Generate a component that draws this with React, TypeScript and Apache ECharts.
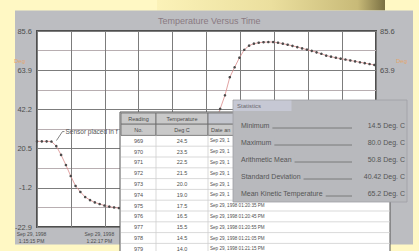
import React, { useEffect, useRef } from 'react';
import * as echarts from 'echarts';

// ---- data ----
const timeSec = [
  0, 30, 60, 90, 120, 150, 180, 210, 240, 270, 300, 330, 360, 390, 420, 450, 480, 510, 540, 570,
  600, 630, 660, 690, 720, 750, 780, 810, 840, 870, 900, 930, 960, 990, 1020, 1050, 1080, 1110, 1140, 1170,
  1200, 1230, 1260, 1290, 1320, 1350, 1380, 1410, 1440, 1470, 1500, 1530, 1560, 1590, 1620, 1650, 1680, 1710, 1740, 1770,
  1800, 1830, 1860, 1890, 1920, 1950, 1980, 2010, 2040, 2070, 2100,
];
const tempC = [
  24.5, 24.5, 24.5, 24.4, 21.9, 17.0, 11.4, 5.3, -0.2, -3.5, -6.3, -8.0, -9.3, -10.2, -11.0, -11.6, -12.1, -12.4, -12.7, -13.0,
  -13.2, -13.4, -13.5, -13.6, -13.7, -13.8, -13.8, -13.9, -13.9, -14.0, -14.0, -14.0, -12.0, -4.0, 6.0, 16.0, 26.0, 35.0, 42.5, 50.0,
  60.0, 65.5, 70.8, 75.2, 77.5, 78.6, 79.1, 79.4, 79.5, 79.5, 79.1, 78.6, 78.0, 77.4, 76.7, 76.0, 75.3, 74.6, 73.8, 73.0,
  72.0, 71.4, 70.8, 70.3, 69.8, 69.3, 68.8, 68.3, 67.8, 67.3, 66.8,
];
const yMin = -22.9;
const yMax = 85.6;
const yStep = 21.7;
const yTickLabelsLeft = ['-22.9', '-1.2', '20.5', '42.2', '63.9', '85.6'];
const yTickLabelsRight = ['', '', '', '', '63.9', '85.6'];
const xMax = 2110;
const xStep = 211;
const xTickLabels = ['Sep 29, 1998\n1:15:15 PM', '', 'Sep 29, 1998\n1:22:17 PM'];
const readingNos = ['969', '970', '971', '972', '973', '974', '975', '976', '977', '978', '979'];
const readingTemps = ['24.5', '23.5', '22.5', '21.5', '20.0', '19.0', '17.5', '16.5', '15.5', '14.5', '14.0'];
const readingTimes = [
  'Sep 29, 1998 01:19:35 PM', 'Sep 29, 1998 01:19:45 PM', 'Sep 29, 1998 01:19:55 PM', 'Sep 29, 1998 01:20:05 PM',
  'Sep 29, 1998 01:20:15 PM', 'Sep 29, 1998 01:20:25 PM', 'Sep 29, 1998 01:20:35 PM', 'Sep 29, 1998 01:20:45 PM',
  'Sep 29, 1998 01:20:55 PM', 'Sep 29, 1998 01:21:05 PM', 'Sep 29, 1998 01:21:15 PM',
];
const tableHead1 = ['Reading', 'Temperature', ''];
const tableHead2 = ['No.', 'Deg C', 'Date and Time'];
const statsTitle = 'Statistics';
const statNames = ['Minimum', 'Maximum', 'Arithmetic Mean', 'Standard Deviation', 'Mean Kinetic Temperature'];
const statValues = ['14.5 Deg. C', '80.0 Deg. C', '50.8 Deg. C', '40.42 Deg. C', '65.2 Deg. C'];
const chartTitle = 'Temperature Versus Time';
const unitLabel = 'Deg';
const noteText = 'Sensor placed in freezer';
const noteIndex = 3;

const FONT = '"Liberation Sans", Arial, sans-serif';
const PANEL = '#bcbdc1';

function txt(x: number, y: number, text: string, size: number, color: string, z: number, align = 'left', extra: any = {}) {
  return {
    type: 'text', x, y, z, silent: true,
    style: { text, fontSize: size, fill: color, align, verticalAlign: 'middle', fontFamily: FONT, ...extra },
  };
}
function rect(x: number, y: number, w: number, h: number, fill: any, z: number, stroke?: string, lw = 1) {
  return {
    type: 'rect', z, silent: true,
    shape: { x, y, width: w, height: h },
    style: { fill, stroke: stroke || null, lineWidth: stroke ? lw : 0 },
  };
}
function line(x1: number, y1: number, x2: number, y2: number, color: string, z: number, lw = 1) {
  return { type: 'line', z, silent: true, shape: { x1, y1, x2, y2 }, style: { stroke: color, lineWidth: lw } };
}

export default function App() {
  const ref = useRef<HTMLDivElement>(null);
  useEffect(() => {
    if (!ref.current) return;
    const chart = echarts.init(ref.current, null, { renderer: 'svg' });
    const yAxisBase = {
      type: 'value', min: yMin, max: yMax, interval: yStep,
      axisLine: { show: false }, axisTick: { show: false },
    };
    const yLabel = { fontSize: 7.5, color: '#4d4d4d', fontFamily: FONT };
    chart.setOption({
      animation: false,
      backgroundColor: '#fff8c4',
      title: {
        text: chartTitle, left: 153, top: 11,
        textStyle: { fontSize: 9, color: '#8a7a82', fontWeight: 'normal', fontFamily: FONT },
      },
      grid: {
        left: 37, right: 43, top: 31, bottom: 24, show: true,
        backgroundColor: '#ffffff', borderColor: '#4f4f4f', borderWidth: 2,
      },
      xAxis: {
        type: 'value', min: 0, max: xMax, interval: xStep,
        axisLine: { show: false }, axisTick: { show: false },
        splitLine: { show: true, lineStyle: { color: '#7c7c7c', width: 1 } },
        axisLabel: {
          fontSize: 5, lineHeight: 7, color: '#4d4d4d', fontFamily: FONT, margin: 3.5,
          padding: [0, 11, 0, 0], showMinLabel: true, showMaxLabel: true,
          formatter: (_v: number, i: number) => xTickLabels[i] ?? '',
        },
      },
      yAxis: [
        {
          ...yAxisBase, position: 'left',
          axisLabel: { ...yLabel, margin: 5, formatter: (_v: number, i: number) => yTickLabelsLeft[i] ?? '' },
          splitLine: { show: true, lineStyle: { color: '#7c7c7c', width: 1 } },
          minorTick: { show: false, splitNumber: 2 },
          minorSplitLine: { show: true, lineStyle: { color: '#b8aeb1', width: 1 } },
        },
        {
          ...yAxisBase, position: 'right',
          axisLabel: { ...yLabel, margin: 4, formatter: (_v: number, i: number) => yTickLabelsRight[i] ?? '' },
          splitLine: { show: false },
        },
      ],
      series: [
        {
          type: 'line', yAxisIndex: 0, z: 3,
          data: timeSec.map((t, i) => [t, tempC[i]]),
          symbol: 'circle', symbolSize: 2.6, showSymbol: true,
          itemStyle: { color: '#4a4a4a' },
          lineStyle: { color: '#d98a8a', width: 0.8 },
        },
      ],
    });

    const p = chart.convertToPixel({ xAxisIndex: 0, yAxisIndex: 0 }, [timeSec[noteIndex], tempC[noteIndex]]) as number[];

    const tx = 120, ty = 112, tw = 270;
    const sx = 233, sy = 100, sw = 174, sh = 102;

    const els: any[] = [];
    // background window panel + top tab shadow
    els.push(rect(157, 0, 228, 10.5, {
      type: 'linear', x: 0, y: 0, x2: 1, y2: 0,
      colorStops: [
        { offset: 0, color: '#fbf2b8' }, { offset: 0.5, color: '#ebdf9e' },
        { offset: 0.88, color: '#c8ba78' }, { offset: 1, color: '#7a7043' },
      ],
    }, -10));
    els.push(rect(15, 10.5, 398, 234, PANEL, -10));
    // unit labels
    els.push(txt(14, 61, unitLabel, 6, '#e2a66c', 5));
    els.push(txt(396, 61, unitLabel, 6, '#e2a66c', 5));
    // annotation
    els.push({
      type: 'polyline', z: 6, silent: true,
      shape: { points: [[p[0] + 5, p[1] - 1], [p[0] + 11, p[1] - 10], [p[0] + 13, p[1] - 10]] },
      style: { stroke: '#666', lineWidth: 0.8, fill: null },
    });
    els.push(txt(p[0] + 14, p[1] - 10.5, noteText, 6.5, '#555', 6, 'left', {
      width: tx - (p[0] + 14), overflow: 'truncate', ellipsis: '',
    }));

    // ---- readings table ----
    const tz = 100;
    const cols = [121, 156, 208, 390];
    els.push(rect(tx, ty, tw, 145, '#ffffff', tz, '#555', 1));
    const hh = 11.2;
    for (let c = 0; c < 3; c++) {
      const w = cols[c + 1] - cols[c];
      els.push(rect(cols[c], ty + 1, w, hh, c === 2 ? '#c3c5cd' : '#c9c9c9', tz + 1, '#6a6a6a', 0.8));
      els.push(rect(cols[c], ty + 1 + hh, w, hh, '#c9c9c9', tz + 1, '#6a6a6a', 0.8));
      const cx = c === 2 ? cols[c] + 3 : (cols[c] + cols[c + 1]) / 2;
      const al = c === 2 ? 'left' : 'center';
      const extra = c === 2 ? { width: sx - cx - 1, overflow: 'truncate', ellipsis: '' } : {};
      if (tableHead1[c]) els.push(txt(cx, ty + 1 + hh / 2, tableHead1[c], 5.5, '#4a4a4a', tz + 2, al));
      els.push(txt(cx, ty + 1 + hh * 1.5, tableHead2[c], 5.5, '#4a4a4a', tz + 2, al, extra));
    }
    const rowTop = ty + 1 + hh * 2;
    const rh = 10.8;
    for (let i = 0; i < readingNos.length; i++) {
      const y0 = rowTop + i * rh;
      const cy = y0 + rh / 2;
      els.push(line(cols[0], y0 + rh, cols[3], y0 + rh, '#cfcfcf', tz + 1, 0.8));
      els.push(txt((cols[0] + cols[1]) / 2, cy, readingNos[i], 5.5, '#4f4f4f', tz + 2, 'center'));
      els.push(txt((cols[1] + cols[2]) / 2, cy, readingTemps[i], 5.5, '#4f4f4f', tz + 2, 'center'));
      const covered = cy < sy + sh;
      els.push(txt(cols[2] + 2, cy, readingTimes[i], 4.6, '#4f4f4f', tz + 2, 'left',
        covered ? { width: sx - cols[2] - 3, overflow: 'truncate', ellipsis: '' } : {}));
    }
    els.push(line(cols[1], rowTop, cols[1], 251, '#cfcfcf', tz + 1, 0.8));
    els.push(line(cols[2], rowTop, cols[2], 251, '#cfcfcf', tz + 1, 0.8));

    // ---- statistics panel ----
    const sz = 120;
    const SP = '#b8b9bd';
    els.push(rect(sx, sy, sw, sh, SP, sz, '#a0a0a4', 0.8));
    els.push(rect(sx + 0.5, sy + 0.5, 58, 10.5, '#c6c8d4', sz + 1));
    els.push(txt(sx + 4, sy + 5.8, statsTitle, 6, '#6a6a70', sz + 2));
    for (let i = 0; i < statNames.length; i++) {
      const cy = 125 + i * 17;
      els.push(line(sx + 8, cy + 3, 352, cy + 3, '#6a6a6a', sz + 1, 0.8));
      els.push(txt(sx + 8, cy, statNames[i], 7, '#555', sz + 2, 'left', {
        backgroundColor: SP, padding: [1, 3, 2, 0],
      }));
      els.push(txt(405, cy, statValues[i], 7, '#555', sz + 2, 'right'));
    }

    chart.setOption({ graphic: { elements: els } });
    return () => chart.dispose();
  }, []);
  return <div ref={ref} style={{ position: 'fixed', left: 0, top: 0, width: 419, height: 251 }} />;
}
